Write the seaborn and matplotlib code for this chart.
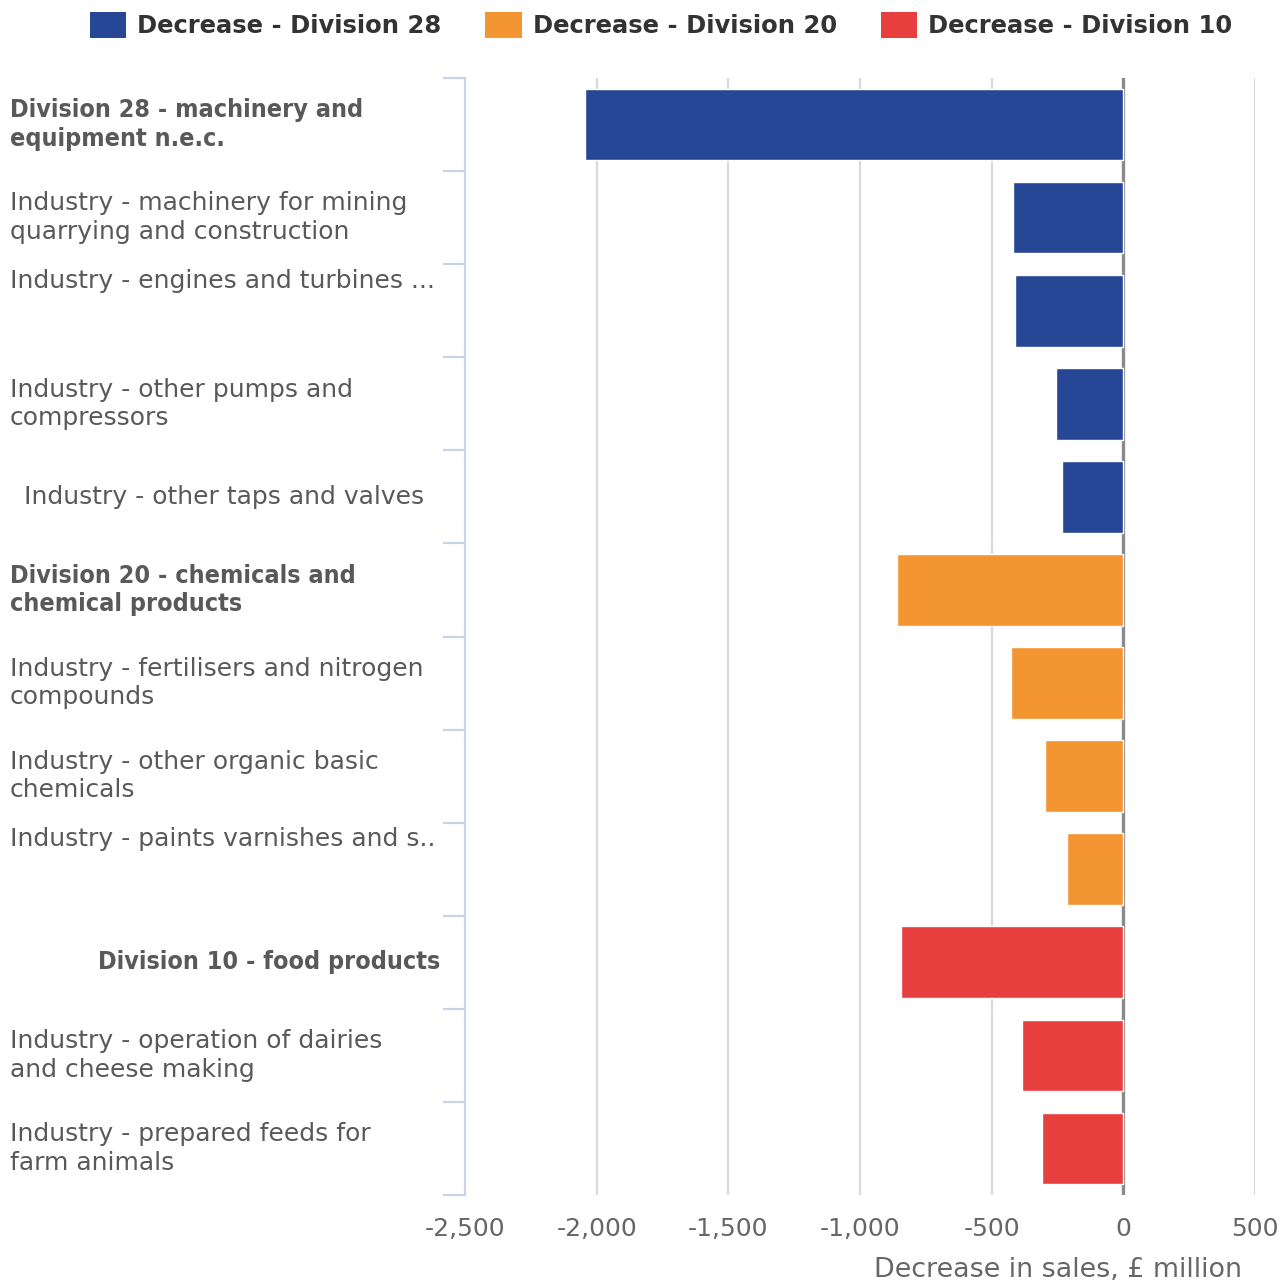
import matplotlib
matplotlib.use("Agg")
import matplotlib.pyplot as plt
import matplotlib.transforms as mtransforms
from matplotlib.patches import Patch
import seaborn as sns
import pandas as pd
import numpy as np

# ---------------- data ----------------
categories = [
    "Division 28 - machinery and equipment n.e.c.",
    "Industry - machinery for mining quarrying and construction",
    "Industry - engines and turbines",
    "Industry - other pumps and compressors",
    "Industry - other taps and valves",
    "Division 20 - chemicals and chemical products",
    "Industry - fertilisers and nitrogen compounds",
    "Industry - other organic basic chemicals",
    "Industry - paints varnishes and similar coatings",
    "Division 10 - food products",
    "Industry - operation of dairies and cheese making",
    "Industry - prepared feeds for farm animals",
]
values = [-2044, -418, -410, -255, -232, -859, -426, -296, -213, -843, -384, -308]
groups = ["Decrease - Division 28"] * 5 + ["Decrease - Division 20"] * 4 + ["Decrease - Division 10"] * 3
series_names = ["Decrease - Division 28", "Decrease - Division 20", "Decrease - Division 10"]
series_colors = ["#264796", "#f39530", "#e73e3e"]

display_labels = [
    "Division 28 - machinery and\nequipment n.e.c.",
    "Industry - machinery for mining\nquarrying and construction",
    "Industry - engines and turbines ...",
    "Industry - other pumps and\ncompressors",
    "Industry - other taps and valves",
    "Division 20 - chemicals and\nchemical products",
    "Industry - fertilisers and nitrogen\ncompounds",
    "Industry - other organic basic\nchemicals",
    "Industry - paints varnishes and s..",
    "Division 10 - food products",
    "Industry - operation of dairies\nand cheese making",
    "Industry - prepared feeds for\nfarm animals",
]
bold_labels = [True, False, False, False, False, True, False, False, False, True, False, False]
x_ticks = [-2500, -2000, -1500, -1000, -500, 0, 500]
x_title = "Decrease in sales, £ million"

df = pd.DataFrame({"category": categories, "value": values, "group": groups})

# ---------------- figure ----------------
W, H = 1288, 1283
fig = plt.figure(figsize=(W / 100, H / 100), dpi=100)
sns.set_style("white")
plt.rcParams["font.family"] = ["DejaVu Sans"]

ax_left, ax_right, ax_top, ax_bot = 465, 1255, 78, 1195
ax = fig.add_axes([ax_left / W, 1 - ax_bot / H, (ax_right - ax_left) / W, (ax_bot - ax_top) / H])

sns.barplot(data=df, y="category", x="value", hue="group", hue_order=series_names,
            palette=series_colors, saturation=1, dodge=False, orient="h", width=0.77,
            edgecolor="white", linewidth=1, ax=ax, legend=False, zorder=3)

ax.set_xlim(-2500, 500)
ax.set_ylim(len(categories) - 0.5, -0.5)

# grid
for xv in x_ticks[1:]:
    ax.axvline(xv, color="#d9d9d9", lw=1.6, zorder=1)
ax.axvline(0, color="#8a8a8a", lw=2.4, zorder=2)

# spines
for s in ["top", "right", "bottom"]:
    ax.spines[s].set_visible(False)
ax.spines["left"].set_color("#c6d4e7")
ax.spines["left"].set_linewidth(1.6)
ax.spines["left"].set_zorder(4)

# x ticks
ax.set_xticks(x_ticks)
ax.set_xticklabels([f"{v:,}" for v in x_ticks], fontsize=18, color="#666666")
ax.tick_params(axis="x", length=0, pad=16)

# y ticks: minor ticks at category boundaries, no labels
ax.set_yticks([])
ax.set_yticks(np.arange(-0.5, len(categories), 1.0), minor=True)
ax.tick_params(axis="y", which="minor", length=16, width=1.6, color="#c6d4e7", left=True)
ax.set_ylabel("")

# x title
ax.set_xlabel(x_title, fontsize=19.4, color="#666666", loc="right")
ax.xaxis.set_label_coords((1242 - ax_left) / (ax_right - ax_left), -(1270 - ax_bot) / (ax_bot - ax_top))
ax.xaxis.label.set_va("center")

# category labels
trans = mtransforms.blended_transform_factory(fig.transFigure, ax.transData)
cat_step_px = (ax_bot - ax_top) / len(categories)
for i, (lab, b) in enumerate(zip(display_labels, bold_labels)):
    x, ha, yoff = 10 / W, "left", 0.0
    if lab.endswith(".."):
        yoff = -30 / cat_step_px
    if lab == "Industry - other taps and valves":
        x = 24 / W
    if lab == "Division 10 - food products":
        x, ha = 440 / W, "right"
    if b:
        ax.text(x, i + yoff, lab, transform=trans, ha=ha, va="center",
                fontsize=18, color="#595959", fontweight="bold",
                family=["DejaVu Sans Condensed", "DejaVu Sans"], fontstretch="condensed",
                linespacing=1.24)
    else:
        ax.text(x, i + yoff, lab, transform=trans, ha=ha, va="center",
                fontsize=18, color="#595959", linespacing=1.24)

# legend
handles = [Patch(facecolor=c, edgecolor="none") for c in series_colors]
leg = fig.legend(handles, series_names, loc="upper center", bbox_to_anchor=(661 / W, 1.0 + 3 / H),
                 ncol=3, frameon=False, prop={"weight": "bold", "size": 17.5},
                 handlelength=1.5, handleheight=1.3, handletextpad=0.45, columnspacing=1.8,
                 borderaxespad=0.2)
for t in leg.get_texts():
    t.set_color("#333333")

fig.savefig("out.png", dpi=100)
